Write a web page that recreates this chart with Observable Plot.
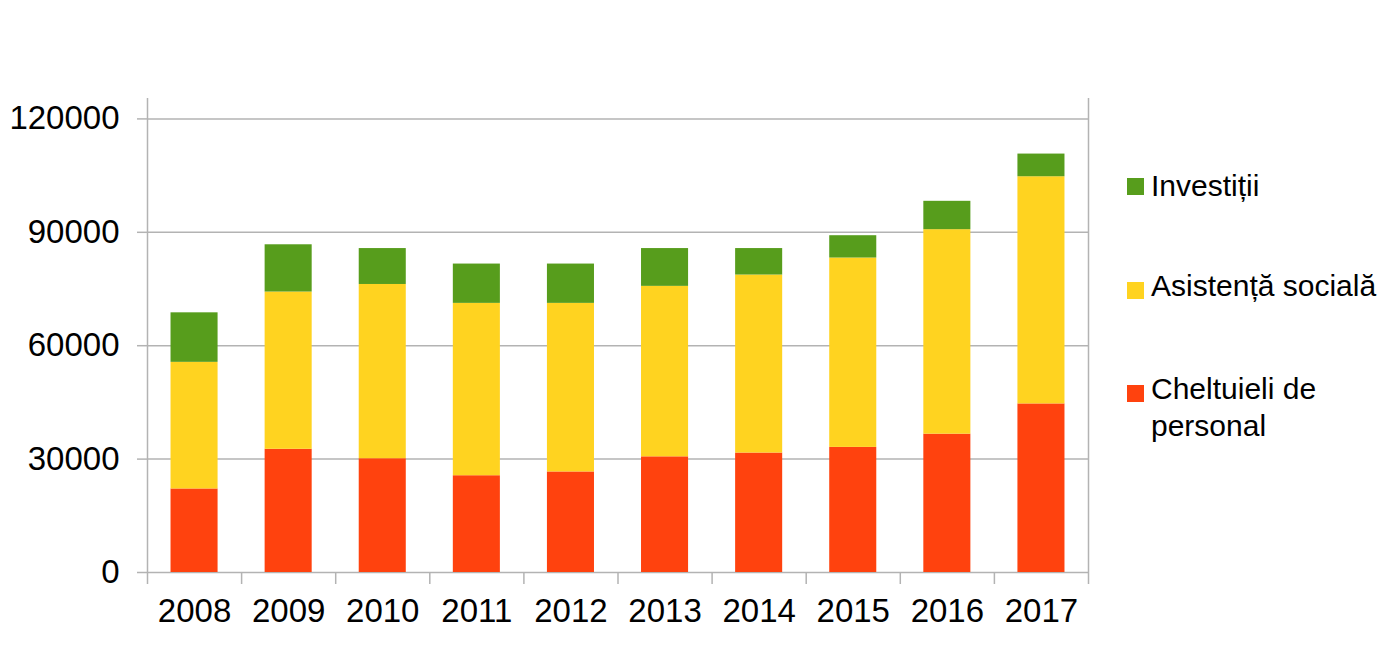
<!DOCTYPE html>
<html>
<head>
<meta charset="utf-8">
<script src="https://cdn.jsdelivr.net/npm/d3@7"></script>
<script src="https://cdn.jsdelivr.net/npm/@observablehq/plot@0.6"></script>
<style>
  html, body { margin: 0; padding: 0; background: #fff; }
  #wrap { position: relative; width: 1400px; height: 657px; font-family: "Liberation Sans", Arial, sans-serif; }
  .item { position: absolute; left: 1127px; font-size: 30px; line-height: 36.7px; color: #000; white-space: nowrap; }
  .item .sw { position: absolute; left: 0; width: 17px; height: 17px; }
  .item .tx { position: absolute; left: 24px; top: 0; }
</style>
</head>
<body>
<div id="wrap"></div>
<script>
const years = [2008, 2009, 2010, 2011, 2012, 2013, 2014, 2015, 2016, 2017];
const personal   = [22100, 32600, 30100, 25600, 26600, 30600, 31600, 33100, 36600, 44600];
const asistenta  = [33500, 41600, 46100, 45600, 44600, 45100, 47100, 50100, 54100, 60100];
const investitii = [13100, 12500,  9500, 10400, 10400, 10000,  7000,  5900,  7500,  6000];
const seriesNames = ["Cheltuieli de personal", "Asistență socială", "Investiții"];
const seriesColors = ["#ff420e", "#ffd320", "#579d1c"];
const yTicks = [0, 30000, 60000, 90000, 120000];

const rows = [];
years.forEach((yr, i) => {
  const vals = [personal[i], asistenta[i], investitii[i]];
  let base = 0;
  vals.forEach((v, k) => {
    rows.push({year: yr, series: seriesNames[k], y1: base, y2: base + v});
    base += v;
  });
});

const boundaries = [years[0] - 0.5, ...years.map(y => y + 0.5)];
const gridColor = "#b3b3b3";
const yTop = 125400;

const chart = Plot.plot({
  width: 1400,
  height: 657,
  marginLeft: 147,
  marginRight: 312,
  marginTop: 98,
  marginBottom: 85,
  style: {fontFamily: "Liberation Sans, Arial, sans-serif", fontSize: "33px", background: "#fff", color: "#000"},
  x: {type: "linear", domain: [years[0] - 0.5, years[years.length - 1] + 0.5], axis: null},
  y: {domain: [0, yTop], axis: null},
  color: {domain: seriesNames, range: seriesColors},
  marks: [
    Plot.ruleY(yTicks, {x1: boundaries[0], x2: boundaries[boundaries.length - 1], stroke: gridColor, strokeWidth: 1.5}),
    Plot.ruleX([boundaries[0], boundaries[boundaries.length - 1]], {y1: 0, y2: yTop, stroke: gridColor, strokeWidth: 1.5}),
    Plot.rect(rows, {x1: d => d.year - 0.25, x2: d => d.year + 0.25, y1: "y1", y2: "y2", fill: "series"}),
    Plot.axisY({ticks: yTicks, tickSize: 10, tickPadding: 18, stroke: gridColor, strokeWidth: 1.5, fill: "#000", label: null, tickFormat: d => String(d), fontSize: 33}),
    Plot.axisX({ticks: boundaries, tickSize: 12, stroke: gridColor, strokeWidth: 1.5, tickFormat: () => "", label: null}),
    Plot.axisX({ticks: years, tickSize: 0, tickPadding: 26, fill: "#000", tickFormat: d => String(d), label: null, fontSize: 33})
  ]
});

const wrap = document.getElementById("wrap");
wrap.appendChild(chart);

// legend (HTML, to the right of the plot)
const legendItems = [
  {name: "Investiții", color: seriesColors[2], top: 168, swTop: 10},
  {name: "Asistență socială", color: seriesColors[1], top: 268, swTop: 13.5},
  {name: "Cheltuieli de<br>personal", color: seriesColors[0], top: 371.3, swTop: 13.7}
];
legendItems.forEach(it => {
  const div = document.createElement("div");
  div.className = "item";
  div.style.top = it.top + "px";
  div.innerHTML = `<span class="sw" style="background:${it.color};top:${it.swTop}px"></span><span class="tx">${it.name}</span>`;
  wrap.appendChild(div);
});
</script>
</body>
</html>
